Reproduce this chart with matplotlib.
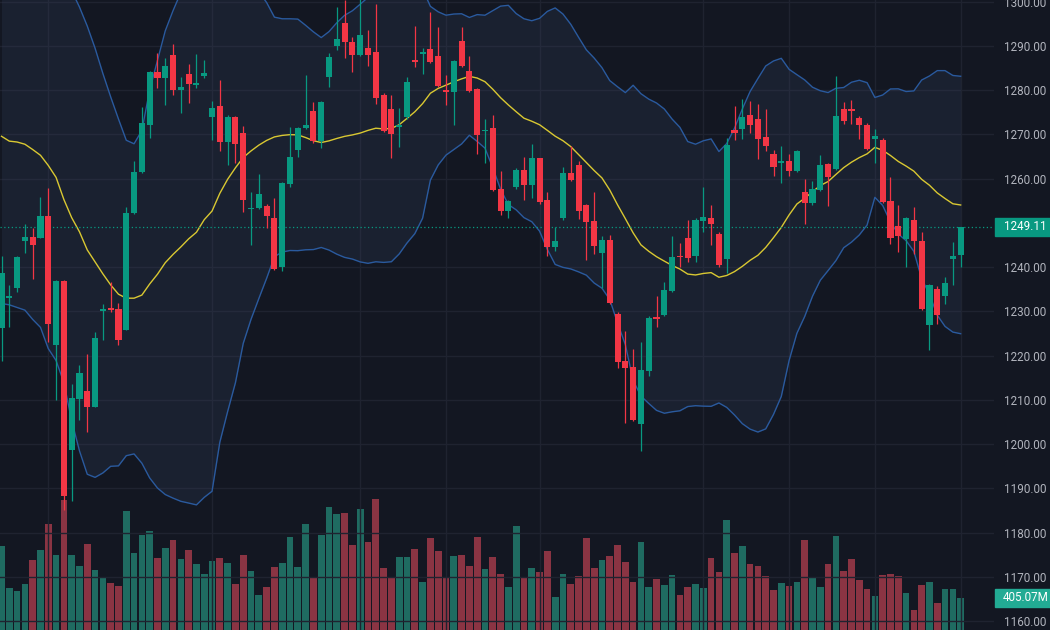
import matplotlib
matplotlib.use("Agg")
import matplotlib.pyplot as plt
import matplotlib.patches as mpatches
import matplotlib.transforms as mtransforms
import numpy as np
import pandas as pd

# daily candles (price)
opens = [1226.2, 1233.1, 1235.3, 1246.0, 1246.9, 1246.7, 1251.6, 1222.5, 1236.9, 1198.7,
         1210.3, 1212.0, 1208.5, 1230.1, 1230.7, 1230.5, 1225.9, 1252.3, 1261.6, 1272.1,
         1284.2, 1282.8, 1288.0, 1280.0, 1283.7, 1281.2, 1283.2, 1273.9, 1276.5, 1268.4,
         1274.0, 1270.4, 1253.1, 1253.3, 1253.9, 1251.2, 1240.1, 1258.9, 1266.6, 1271.4,
         1275.3, 1268.5, 1283.0, 1290.1, 1295.1, 1291.0, 1288.0, 1289.6, 1288.7, 1278.9,
         1275.8, 1271.8, 1273.9, 1286.8, 1288.2, 1289.4, 1287.8, 1280.0, 1279.5, 1291.2,
         1284.4, 1280.3, 1270.7, 1271.4, 1257.7, 1252.8, 1258.2, 1261.9, 1258.6, 1264.6,
         1255.3, 1244.6, 1251.2, 1261.4, 1263.2, 1254.1, 1250.5, 1243.3, 1246.2, 1229.5,
         1218.7, 1217.5, 1204.6, 1216.5, 1228.5, 1229.1, 1234.6, 1242.4, 1246.5, 1242.5,
         1250.5, 1251.2, 1247.5, 1241.9, 1271.1, 1271.2, 1274.4, 1273.5, 1269.5, 1265.7,
         1263.6, 1263.9, 1261.8, 1257.1, 1254.6, 1257.5, 1263.3, 1262.1, 1275.7, 1275.7,
         1273.7, 1272.1, 1268.9, 1268.8, 1255.0, 1249.4, 1246.4, 1250.7, 1245.9, 1226.9,
         1235.0, 1233.5, 1241.8, 1242.7]
highs = [1242.5, 1236.0, 1242.6, 1249.8, 1248.9, 1255.9, 1258.0, 1237.0, 1237.0, 1213.6,
         1218.0, 1220.3, 1225.4, 1231.6, 1236.6, 1231.8, 1253.5, 1264.1, 1276.2, 1284.4,
         1288.5, 1287.3, 1290.5, 1283.0, 1285.9, 1288.3, 1286.9, 1277.5, 1282.3, 1274.4,
         1274.2, 1272.0, 1257.1, 1261.1, 1254.4, 1255.7, 1259.3, 1271.8, 1271.6, 1283.5,
         1277.3, 1277.5, 1288.5, 1298.9, 1300.5, 1292.1, 1301.5, 1293.7, 1299.6, 1279.4,
         1278.9, 1276.0, 1283.0, 1294.5, 1289.6, 1297.8, 1294.2, 1283.5, 1286.8, 1294.2,
         1287.8, 1280.5, 1273.5, 1274.4, 1261.8, 1255.3, 1262.4, 1265.0, 1267.8, 1264.8,
         1257.1, 1249.1, 1262.7, 1267.3, 1264.1, 1254.3, 1257.1, 1247.1, 1247.3, 1229.8,
         1225.6, 1221.6, 1223.0, 1229.0, 1233.5, 1236.6, 1247.1, 1245.5, 1250.7, 1251.2,
         1258.2, 1254.1, 1248.0, 1269.1, 1276.4, 1278.0, 1277.5, 1276.9, 1275.7, 1266.6,
         1267.3, 1265.6, 1266.6, 1260.0, 1259.4, 1265.3, 1263.5, 1283.3, 1277.3, 1277.8,
         1274.2, 1272.5, 1271.2, 1269.1, 1260.5, 1254.1, 1251.4, 1253.5, 1248.0, 1236.1,
         1235.7, 1237.8, 1245.7, 1249.11]
lows = [1218.9, 1226.4, 1234.5, 1243.3, 1237.3, 1246.5, 1223.0, 1210.0, 1185.1, 1187.1,
        1205.5, 1202.8, 1208.3, 1223.5, 1229.9, 1222.5, 1225.7, 1252.1, 1261.4, 1269.2,
        1280.5, 1276.6, 1278.9, 1274.8, 1277.1, 1280.5, 1282.8, 1268.7, 1266.2, 1263.2,
        1263.5, 1252.4, 1245.1, 1253.1, 1248.9, 1239.3, 1239.1, 1258.2, 1265.0, 1271.2,
        1268.0, 1266.9, 1280.7, 1289.2, 1287.4, 1284.1, 1287.8, 1285.5, 1276.8, 1270.5,
        1264.8, 1267.1, 1273.5, 1285.3, 1283.7, 1286.2, 1280.8, 1276.6, 1272.1, 1285.3,
        1279.6, 1265.7, 1263.5, 1257.3, 1251.8, 1251.2, 1257.7, 1255.3, 1255.7, 1254.4,
        1242.5, 1243.7, 1250.7, 1259.6, 1250.9, 1241.6, 1243.0, 1235.3, 1231.7, 1217.3,
        1204.8, 1205.3, 1198.5, 1215.4, 1226.6, 1228.9, 1234.4, 1240.0, 1241.2, 1241.2,
        1248.0, 1245.1, 1240.0, 1238.6, 1268.7, 1268.9, 1270.3, 1264.4, 1266.2, 1260.7,
        1259.1, 1260.7, 1261.6, 1249.8, 1254.1, 1257.3, 1253.9, 1261.9, 1272.3, 1272.4,
        1268.9, 1266.6, 1263.5, 1254.6, 1245.3, 1243.5, 1240.0, 1243.0, 1230.3, 1221.2,
        1227.1, 1231.6, 1235.9, 1240.0]
closes = [1238.7, 1233.4, 1242.4, 1246.9, 1245.1, 1251.6, 1227.1, 1236.9, 1188.2, 1210.5,
          1216.1, 1208.5, 1223.9, 1230.4, 1230.3, 1223.6, 1252.3, 1261.6, 1272.5, 1284.2,
          1282.8, 1285.5, 1280.0, 1280.7, 1281.5, 1281.5, 1284.0, 1275.9, 1268.4, 1274.0,
          1267.8, 1255.3, 1253.4, 1256.6, 1251.6, 1239.5, 1259.1, 1265.0, 1271.4, 1272.2,
          1268.5, 1277.3, 1287.6, 1291.5, 1291.0, 1288.0, 1292.4, 1288.0, 1278.2, 1270.7,
          1270.1, 1272.2, 1281.9, 1286.4, 1288.6, 1286.4, 1281.0, 1279.6, 1286.6, 1285.5,
          1279.8, 1269.8, 1271.0, 1257.5, 1252.8, 1255.0, 1261.9, 1258.6, 1264.6, 1254.8,
          1244.6, 1246.0, 1261.4, 1259.8, 1252.7, 1250.3, 1244.8, 1246.2, 1231.9, 1218.6,
          1217.3, 1205.5, 1216.8, 1228.5, 1228.3, 1234.9, 1242.4, 1242.2, 1242.1, 1250.7,
          1251.4, 1249.8, 1240.5, 1267.7, 1270.3, 1274.0, 1272.1, 1268.9, 1267.4, 1262.7,
          1263.9, 1261.8, 1266.2, 1254.6, 1257.7, 1263.0, 1260.3, 1274.2, 1273.0, 1275.3,
          1272.1, 1266.8, 1269.7, 1254.8, 1246.6, 1247.1, 1251.2, 1245.9, 1230.5, 1235.9,
          1229.2, 1236.4, 1242.5, 1249.11]
# volume in millions
volumes = [1053, 532, 496, 572, 876, 1002, 1332, 937, 1635, 937,
           800, 1078, 749, 658, 587, 547, 1494, 962, 1190, 1240,
           901, 1028, 1129, 886, 1002, 825, 709, 866, 901, 840,
           572, 942, 744, 435, 537, 790, 840, 1164, 790, 1332,
           663, 1190, 1549, 1458, 1468, 1068, 1524, 1104, 1645, 775,
           648, 911, 916, 1018, 608, 1154, 992, 648, 927, 942,
           800, 1164, 765, 916, 699, 537, 1306, 648, 775, 724,
           987, 410, 709, 572, 684, 1154, 775, 876, 927, 1068,
           851, 597, 1104, 537, 638, 562, 689, 435, 537, 572,
           532, 901, 724, 1382, 962, 1053, 825, 800, 684, 506,
           587, 557, 597, 1129, 663, 537, 825, 1180, 739, 891,
           633, 521, 430, 689, 699, 673, 461, 253, 562, 608,
           334, 511, 511, 405.07]

# bollinger bands for the first 19 candles (their history is not on the chart)
sma_head = [1269.6, 1268.5, 1268.3, 1267.8, 1266.6, 1265.3, 1263.0, 1260.3, 1255.3, 1251.2,
            1248.0, 1243.9, 1241.2, 1238.5, 1236.0, 1233.9, 1233.0, 1233.0, 1233.7]
upper_head = [1318.0, 1316.5, 1315.5, 1314.5, 1313.5, 1312.0, 1310.0, 1308.0, 1305.5, 1302.5,
              1298.8, 1294.5, 1289.5, 1283.8, 1278.5, 1273.5, 1268.7, 1267.9, 1270.9]
lower_head = [1231.8, 1231.5, 1230.9, 1230.3, 1228.2, 1226.4, 1221.6, 1218.9, 1213.9, 1205.3,
              1198.5, 1193.2, 1192.5, 1193.5, 1195.0, 1195.1, 1197.4, 1197.8, 1195.7]

time_grid = [6, 27, 46, 57, 69, 90, 101, 112, 123]
price_ticks = [1160, 1170, 1180, 1190, 1200, 1210, 1220, 1230, 1240, 1260, 1270, 1280, 1290, 1300]
last_price = 1249.11
last_volume = 405.07

BG = '#131722'
UP = '#089981'
DOWN = '#f23645'
UP_VOL = '#1f6b61'
DOWN_VOL = '#8a3443'
GRID = '#1f2330'
BAND = '#2a5a9e'
BASIS = '#d9c832'
TXT = '#b2b5be'

plt.rcParams['font.family'] = ['Roboto', 'DejaVu Sans']

o = np.array(opens)
h = np.array(highs)
l = np.array(lows)
c = np.array(closes)
n = len(c)
x = np.arange(n)
up = c >= o

s = pd.Series(closes)
mid = s.rolling(20).mean().to_numpy()
sd = s.rolling(20).std(ddof=0).to_numpy()
upper = mid + 2 * sd
lower = mid - 2 * sd
mid[:19] = sma_head
upper[:19] = upper_head
lower[:19] = lower_head

W, H = 1050, 630
plot_w = 994
step = 7.798  # px per candle

fig = plt.figure(figsize=(W / 100, H / 100), dpi=100, facecolor=BG)
ax = fig.add_axes([0, 0, plot_w / W, 1])
vax = ax.twinx()
ax.set_zorder(2)
vax.set_zorder(1)
ax.patch.set_visible(False)
vax.set_facecolor(BG)

ax.set_xlim(-1.5 / step, (plot_w - 1.5) / step)
ax.set_ylim(1158.0, 1300.4)
vmax = 7911
vax.set_ylim(0, vmax)

# grid
for p in price_ticks:
    ax.axhline(p, color=GRID, lw=1, zorder=0)
for t in time_grid:
    ax.axvline(t, color=GRID, lw=1, zorder=0)

# volume
vax.bar(x, volumes, width=0.86, color=np.where(up, UP_VOL, DOWN_VOL), linewidth=0)

# bollinger bands
ax.fill_between(x, lower, upper, color='#3a4a6b', alpha=0.2, lw=0, zorder=1)
ax.plot(x, upper, color=BAND, lw=1.0, zorder=2)
ax.plot(x, lower, color=BAND, lw=1.0, zorder=2)
ax.plot(x, mid, color=BASIS, lw=1.0, zorder=2)

# last price line
ax.axhline(last_price, color=UP, lw=0.9, ls=(0, (1, 2)), zorder=2)

# candles
cols = np.where(up, UP, DOWN)
ax.vlines(x, l, h, colors=cols, lw=0.9, zorder=3)
body_lo = np.minimum(o, c)
body_h = np.maximum(np.abs(c - o), 0.35)
ax.bar(x, body_h, bottom=body_lo, width=0.78, color=cols, linewidth=0, zorder=4)

# axes styling
for a in (ax, vax):
    for sp in a.spines.values():
        sp.set_visible(False)
    a.set_xticks([])
vax.set_yticks([])
ax.yaxis.tick_right()
ax.set_yticks(price_ticks)
ax.set_yticklabels([f"{p:.2f}" for p in price_ticks])
ax.tick_params(axis='y', length=0, pad=7.2, labelsize=8.4, labelcolor=TXT)

# price / volume labels on the scale
tr = mtransforms.blended_transform_factory(ax.transAxes, ax.transData)
ppx = (1300.4 - 1158.0) / H
ax.add_patch(mpatches.Rectangle((995 / plot_w, last_price - 9 * ppx), 55 / plot_w, 18 * ppx,
                                transform=tr, color=UP, clip_on=False, zorder=5))
ax.text(1004 / plot_w, last_price, f"{last_price:.2f}", transform=tr, ha='left', va='center',
        color='white', fontsize=8.4, zorder=6, clip_on=False)

trv = mtransforms.blended_transform_factory(vax.transAxes, vax.transData)
vpx = vmax / H
vax.add_patch(mpatches.Rectangle((995 / plot_w, last_volume - 9 * vpx), 55 / plot_w, 18 * vpx,
                                 transform=trv, color='#22ab94', clip_on=False, zorder=5))
vax.text(1003 / plot_w, last_volume, f"{last_volume:.2f}M", transform=trv, ha='left', va='center',
         color='white', fontsize=8.4, zorder=6, clip_on=False)

fig.savefig('out.png', dpi=100, facecolor=BG)
